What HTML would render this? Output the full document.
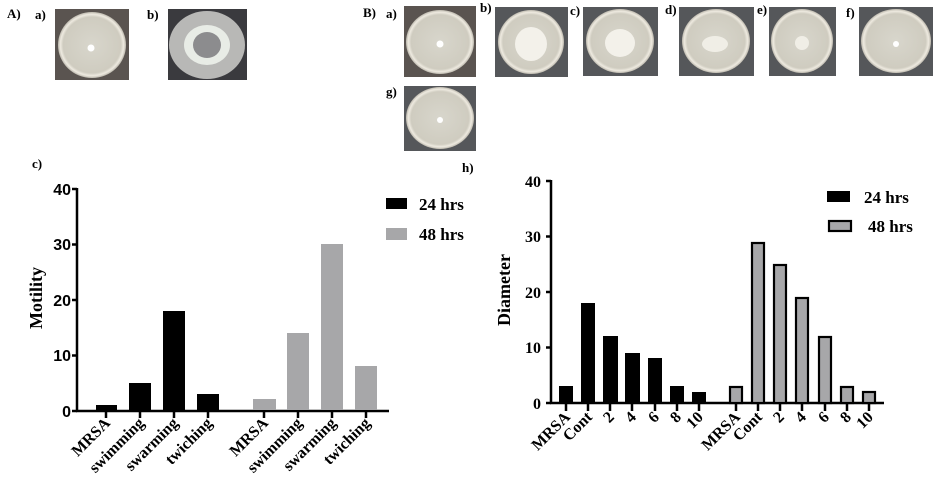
<!DOCTYPE html>
<html><head><meta charset="utf-8"><style>
html,body{margin:0;padding:0;background:#fff;}
svg{display:block;}
.lb{font-family:"Liberation Serif",serif;font-weight:bold;font-size:13px;fill:#000;}
.sans{font-family:"Liberation Sans",sans-serif;font-weight:bold;font-size:16px;fill:#000;}
.ser{font-family:"Liberation Serif",serif;font-weight:bold;fill:#000;}
</style></head><body>
<svg width="940" height="491" viewBox="0 0 940 491" xmlns="http://www.w3.org/2000/svg">
<defs>
<radialGradient id="plate" cx="50%" cy="50%" r="50%">
<stop offset="0%" stop-color="#d8d6cc"/><stop offset="85%" stop-color="#cfccc0"/><stop offset="93%" stop-color="#eeeae0"/><stop offset="100%" stop-color="#bdb9ae"/>
</radialGradient>
</defs>
<text x="7" y="18" class="lb" font-size="14">A)</text>
<text x="35" y="19" class="lb">a)</text>
<text x="147" y="19" class="lb">b)</text>
<text x="363" y="17" class="lb" font-size="14">B)</text>
<text x="386" y="18" class="lb" font-size="11">a)</text>
<text x="480" y="12" class="lb" font-size="11">b)</text>
<text x="570" y="15" class="lb" font-size="11">c)</text>
<text x="665" y="14" class="lb" font-size="11">d)</text>
<text x="757" y="14" class="lb" font-size="11">e)</text>
<text x="846" y="17" class="lb" font-size="11">f)</text>
<text x="386" y="96" class="lb" font-size="11">g)</text>
<g>
<rect x="55" y="9" width="74" height="71" fill="#5a5450"/><ellipse cx="92" cy="45" rx="34" ry="33" fill="url(#plate)"/><circle cx="91" cy="48" r="3.5" fill="#fff"/>
<rect x="168" y="9" width="79" height="71" fill="#3a3a3e"/><ellipse cx="207" cy="45" rx="38" ry="34" fill="#b8b8b6"/><ellipse cx="207" cy="45" rx="23" ry="20" fill="#e8ece6"/><ellipse cx="207" cy="45" rx="14" ry="13" fill="#8c8c8e"/>
<rect x="404" y="6" width="72" height="71" fill="#5a5450"/><ellipse cx="440" cy="42" rx="34" ry="32" fill="url(#plate)"/><circle cx="440" cy="44" r="3.5" fill="#fff"/>
<rect x="495" y="7" width="73" height="70" fill="#55575a"/><ellipse cx="531" cy="42" rx="33" ry="32" fill="url(#plate)"/><ellipse cx="531" cy="44" rx="16" ry="17" fill="#f3f1ea"/>
<rect x="583" y="7" width="75" height="69" fill="#55575a"/><ellipse cx="620" cy="41" rx="34" ry="32" fill="url(#plate)"/><ellipse cx="620" cy="43" rx="15" ry="14" fill="#f3f1ea"/>
<rect x="679" y="7" width="75" height="69" fill="#55575a"/><ellipse cx="716" cy="41" rx="34" ry="32" fill="url(#plate)"/><ellipse cx="715" cy="44" rx="13" ry="8" fill="#f0eee6"/>
<rect x="769" y="7" width="67" height="69" fill="#55575a"/><ellipse cx="802" cy="41" rx="31" ry="32" fill="url(#plate)"/><ellipse cx="802" cy="43" rx="7" ry="7" fill="#f0eee6"/>
<rect x="859" y="7" width="74" height="69" fill="#55575a"/><ellipse cx="896" cy="41" rx="35" ry="32" fill="url(#plate)"/><circle cx="896" cy="44" r="3" fill="#fff"/>
<rect x="404" y="86" width="72" height="65" fill="#55575a"/><ellipse cx="440" cy="118" rx="34" ry="31" fill="url(#plate)"/><circle cx="440" cy="120" r="3" fill="#fff"/>
</g>

<text x="32" y="168" class="lb" font-size="14">c)</text>
<g stroke="#000" stroke-width="2.5" fill="none">
<line x1="77" y1="188" x2="77" y2="412"/>
<line x1="76" y1="411" x2="389" y2="411"/>
<line x1="72" y1="189" x2="77" y2="189"/><line x1="72" y1="244.5" x2="77" y2="244.5"/><line x1="72" y1="300" x2="77" y2="300"/><line x1="72" y1="355.5" x2="77" y2="355.5"/><line x1="72" y1="411" x2="77" y2="411"/>
<line x1="106" y1="411" x2="106" y2="418"/><line x1="140" y1="411" x2="140" y2="418"/><line x1="174" y1="411" x2="174" y2="418"/><line x1="208" y1="411" x2="208" y2="418"/>
<line x1="264" y1="411" x2="264" y2="418"/><line x1="298" y1="411" x2="298" y2="418"/><line x1="332" y1="411" x2="332" y2="418"/><line x1="366" y1="411" x2="366" y2="418"/>
</g>
<g class="sans" text-anchor="end">
<text x="71" y="195">40</text><text x="71" y="250">30</text><text x="71" y="306">20</text><text x="71" y="361">10</text><text x="71" y="417">0</text>
</g>
<text class="ser" font-size="18" transform="translate(42,298) rotate(-90)" text-anchor="middle">Motility</text>
<g fill="#000">
<rect x="96" y="405" width="21" height="5"/><rect x="129" y="383" width="22" height="27"/><rect x="163" y="311" width="22" height="99"/><rect x="197" y="394" width="22" height="16"/>
</g>
<g fill="#a7a7a9">
<rect x="253" y="399" width="23" height="11"/><rect x="287" y="333" width="22" height="77"/><rect x="321" y="244" width="22" height="166"/><rect x="355" y="366" width="22" height="44"/>
</g>
<g class="ser" font-size="16" text-anchor="end">
<text transform="translate(111,424) rotate(-45)">MRSA</text>
<text transform="translate(145,424) rotate(-45)">swimming</text>
<text transform="translate(179,424) rotate(-45)">swarming</text>
<text transform="translate(213,424) rotate(-45)">twiching</text>
<text transform="translate(269,424) rotate(-45)">MRSA</text>
<text transform="translate(303,424) rotate(-45)">swimming</text>
<text transform="translate(337,424) rotate(-45)">swarming</text>
<text transform="translate(371,424) rotate(-45)">twiching</text>
</g>
<rect x="386" y="198" width="21" height="11" fill="#000"/>
<text x="419" y="210" class="ser" font-size="17">24 hrs</text>
<rect x="386" y="228" width="21" height="12" fill="#a7a7a9"/>
<text x="419" y="240" class="ser" font-size="17">48 hrs</text>

<text x="462" y="172" class="lb" font-size="13">h)</text>
<g stroke="#000" stroke-width="2.5" fill="none">
<line x1="551" y1="180" x2="551" y2="404"/>
<line x1="550" y1="403" x2="884" y2="403"/>
<line x1="546" y1="181" x2="551" y2="181"/><line x1="546" y1="236.5" x2="551" y2="236.5"/><line x1="546" y1="292" x2="551" y2="292"/><line x1="546" y1="347.5" x2="551" y2="347.5"/><line x1="546" y1="403" x2="551" y2="403"/>
<line x1="566" y1="403" x2="566" y2="411"/><line x1="588" y1="403" x2="588" y2="411"/><line x1="610" y1="403" x2="610" y2="411"/><line x1="632" y1="403" x2="632" y2="411"/><line x1="655" y1="403" x2="655" y2="411"/><line x1="677" y1="403" x2="677" y2="411"/><line x1="699" y1="403" x2="699" y2="411"/>
<line x1="736" y1="403" x2="736" y2="411"/><line x1="758" y1="403" x2="758" y2="411"/><line x1="780" y1="403" x2="780" y2="411"/><line x1="802" y1="403" x2="802" y2="411"/><line x1="825" y1="403" x2="825" y2="411"/><line x1="847" y1="403" x2="847" y2="411"/><line x1="869" y1="403" x2="869" y2="411"/>
</g>
<g class="ser" font-size="16" text-anchor="end">
<text x="541" y="187">40</text><text x="541" y="242">30</text><text x="541" y="298">20</text><text x="541" y="353">10</text><text x="541" y="409">0</text>
</g>
<text class="ser" font-size="18" transform="translate(510,290) rotate(-90)" text-anchor="middle">Diameter</text>
<g fill="#000">
<rect x="559" y="386" width="14" height="17"/><rect x="581" y="303" width="14" height="100"/><rect x="603" y="336" width="15" height="67"/><rect x="625" y="353" width="15" height="50"/><rect x="648" y="358" width="14" height="45"/><rect x="670" y="386" width="14" height="17"/><rect x="692" y="392" width="14" height="11"/>
</g>
<g fill="#a7a7a9" stroke="#000" stroke-width="2.2">
<rect x="730" y="387" width="12" height="16"/><rect x="752" y="243" width="12" height="160"/><rect x="774" y="265" width="12" height="138"/><rect x="796" y="298" width="12" height="105"/><rect x="819" y="337" width="12" height="66"/><rect x="841" y="387" width="12" height="16"/><rect x="863" y="392" width="12" height="11"/>
</g>
<g class="ser" font-size="16" text-anchor="end">
<text transform="translate(571,418) rotate(-45)">MRSA</text>
<text transform="translate(593,418) rotate(-45)">Cont</text>
<text transform="translate(615,418) rotate(-45)">2</text>
<text transform="translate(637,418) rotate(-45)">4</text>
<text transform="translate(660,418) rotate(-45)">6</text>
<text transform="translate(682,418) rotate(-45)">8</text>
<text transform="translate(704,418) rotate(-45)">10</text>
<text transform="translate(741,418) rotate(-45)">MRSA</text>
<text transform="translate(763,418) rotate(-45)">Cont</text>
<text transform="translate(785,418) rotate(-45)">2</text>
<text transform="translate(807,418) rotate(-45)">4</text>
<text transform="translate(830,418) rotate(-45)">6</text>
<text transform="translate(852,418) rotate(-45)">8</text>
<text transform="translate(874,418) rotate(-45)">10</text>
</g>
<rect x="827" y="191" width="23" height="11" fill="#000"/>
<text x="864" y="203" class="ser" font-size="17">24 hrs</text>
<rect x="829" y="221" width="22" height="10" fill="#a7a7a9" stroke="#000" stroke-width="2.2"/>
<text x="868" y="232" class="ser" font-size="17">48 hrs</text>
</svg>
</body></html>
